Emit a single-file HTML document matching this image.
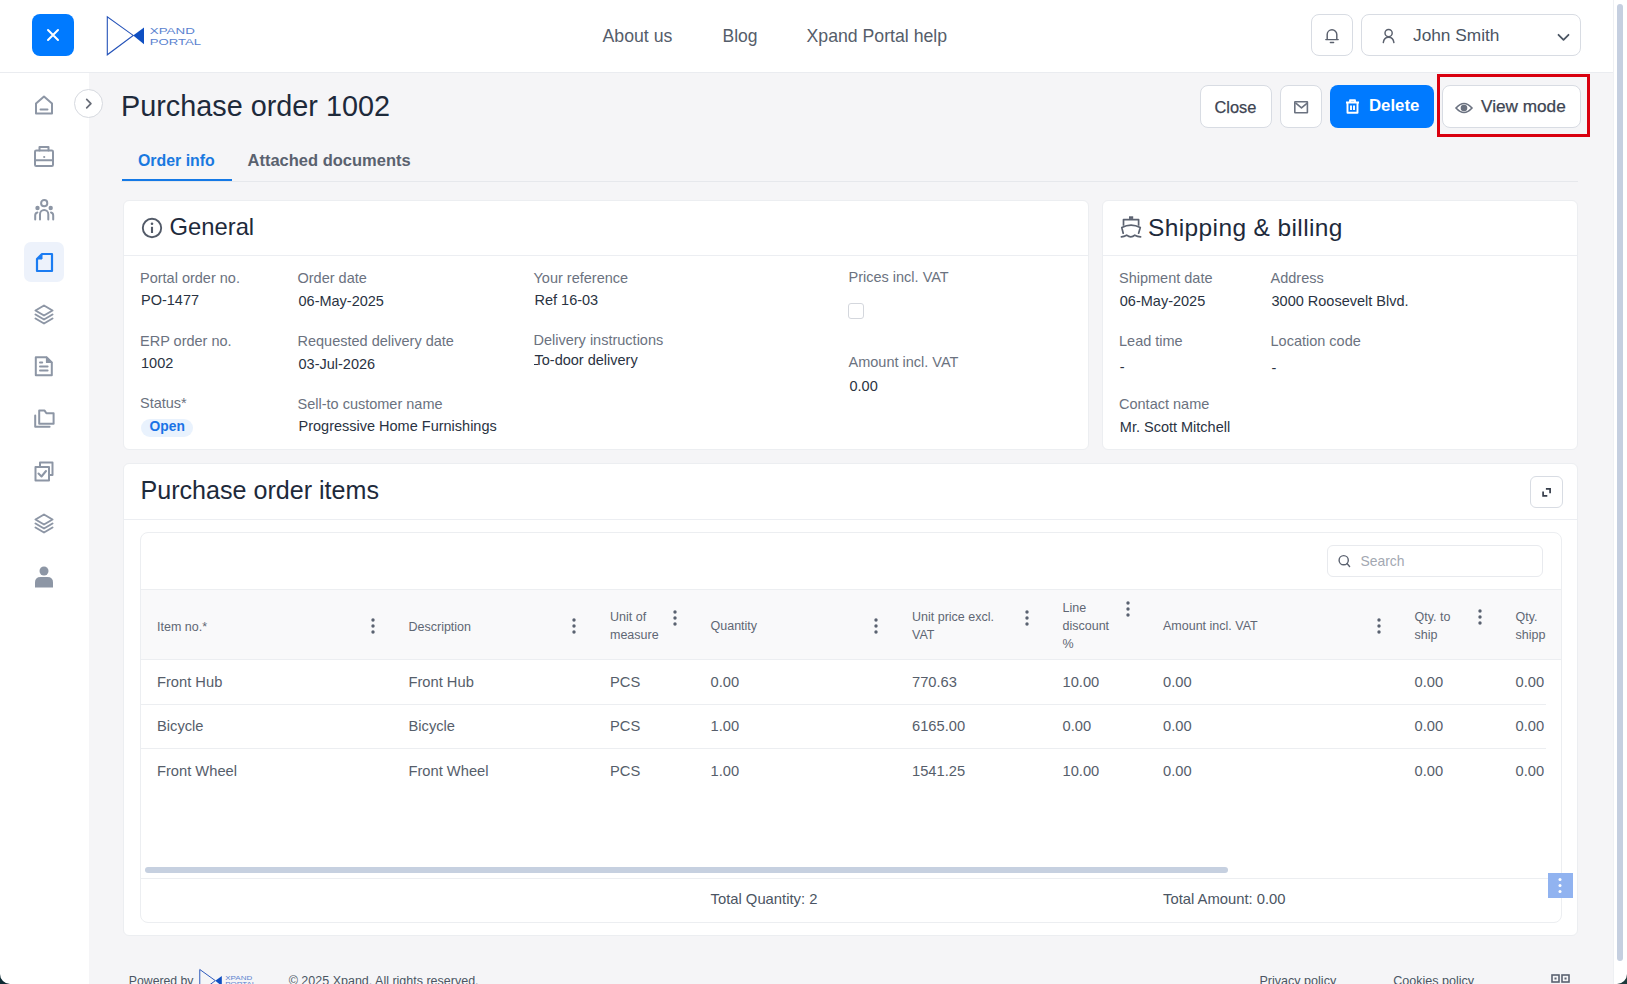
<!DOCTYPE html><html><head><meta charset="utf-8"><title>Purchase order 1002</title><style>
*{box-sizing:border-box;margin:0;padding:0}
html,body{width:1627px;height:984px;overflow:hidden;background:#f5f5f7;font-family:"Liberation Sans",sans-serif}
.a{position:absolute}
.t{position:absolute;white-space:nowrap}
svg{position:absolute;overflow:visible}
</style></head><body>
<div class="a" style="left:0;top:0;width:1613px;height:72px;background:#fff"></div>
<div class="a" style="left:0;top:72px;width:1613px;height:1px;background:#eaecf0"></div>
<div class="a" style="left:0;top:73px;width:88.5px;height:911px;background:#fff"></div>
<div class="a" style="left:1613px;top:0;width:14px;height:984px;background:#fff;border-left:1px solid #eef0f3"></div>
<div class="a" style="left:1617px;top:4px;width:6px;height:957px;border-radius:3px;background:#c5cfe0"></div>
<div class="a" style="left:32px;top:14px;width:42px;height:42px;border-radius:8px;background:#007aff"></div>
<svg style="left:47px;top:29px" width="12" height="12" viewBox="0 0 12 12"><path d="M1 1L11 11M11 1L1 11" stroke="#fff" stroke-width="2" stroke-linecap="round"/></svg>
<svg style="left:106px;top:16px" width="100" height="40" viewBox="0 0 100 40"><path d="M1.3 0.8V38.8L27.2 19.4Z" fill="none" stroke="#2553b9" stroke-width="1.1" stroke-linejoin="miter"/><path d="M27.2 19.4L38 11.5V28.2Z" fill="#0f4fc2"/><text x="43.8" y="18" font-family="Liberation Sans" font-size="9.7" fill="#5a82cf" textLength="45" lengthAdjust="spacingAndGlyphs">XPAND</text><text x="43.8" y="28.9" font-family="Liberation Sans" font-size="9.7" fill="#5a82cf" textLength="51.3" lengthAdjust="spacingAndGlyphs">PORTAL</text></svg>
<div class="t" style="left:602.5px;top:28.02px;font-size:17.7px;line-height:17.7px;color:#555d6a;font-weight:normal;">About us</div>
<div class="t" style="left:722.5px;top:28.19px;font-size:17.5px;line-height:17.5px;color:#555d6a;font-weight:normal;">Blog</div>
<div class="t" style="left:806.5px;top:28.02px;font-size:17.7px;line-height:17.7px;color:#555d6a;font-weight:normal;">Xpand Portal help</div>
<div class="a" style="left:1311px;top:14px;width:42px;height:42px;border-radius:8px;border:1px solid #d8dce3;background:#fff"></div>
<svg style="left:1324px;top:27px" width="16" height="17" viewBox="0 0 16 17"><path d="M3.2 12.5V7.6a4.8 4.8 0 0 1 9.6 0V12.5M1.8 12.6H14.2M6.4 15.4H9.6" fill="none" stroke="#5a606d" stroke-width="1.45" stroke-linecap="round" stroke-linejoin="round"/></svg>
<div class="a" style="left:1361px;top:14px;width:220px;height:42px;border-radius:8px;border:1px solid #d8dce3;background:#fff"></div>
<svg style="left:1382px;top:28px" width="14" height="16" viewBox="0 0 14 16"><circle cx="6.6" cy="5" r="3.6" fill="none" stroke="#5a606d" stroke-width="1.45"/><path d="M1.3 14.6Q2 9.3 6.6 9.3Q11.2 9.3 11.9 14.6" fill="none" stroke="#5a606d" stroke-width="1.45" stroke-linecap="round"/></svg>
<div class="t" style="left:1413px;top:26.86px;font-size:17.3px;line-height:17.3px;color:#4b5563;font-weight:normal;">John Smith</div>
<svg style="left:1557px;top:33px" width="13" height="9" viewBox="0 0 13 9"><path d="M1.5 1.8L6.5 6.8L11.5 1.8" fill="none" stroke="#4b5563" stroke-width="1.8" stroke-linecap="round" stroke-linejoin="round"/></svg>
<svg style="left:34px;top:95px" width="20" height="20" viewBox="0 0 20 20"><path d="M2 18.6V8.6L10 1.6L18 8.6V18.6Z" fill="none" stroke="#8d96a5" stroke-width="2" stroke-linejoin="round" stroke-linecap="round"/><path d="M6.5 14.6H13.5" fill="none" stroke="#8d96a5" stroke-width="2" stroke-linejoin="round" stroke-linecap="round"/></svg>
<svg style="left:34px;top:147px" width="20" height="20" viewBox="0 0 20 20"><rect x="1" y="3.6" width="18" height="15.4" rx="1.2" fill="none" stroke="#8d96a5" stroke-width="2" stroke-linejoin="round" stroke-linecap="round"/><path d="M5.5 3.6V0H14.5V3.6M1 13.3H19" fill="none" stroke="#8d96a5" stroke-width="2" stroke-linejoin="round" stroke-linecap="round"/><circle cx="10.2" cy="10" r="1.1" fill="#8d96a5"/></svg>
<svg style="left:34px;top:199px" width="20" height="22" viewBox="0 0 20 22"><circle cx="10.2" cy="4.2" r="3.1" fill="none" stroke="#8d96a5" stroke-width="2" stroke-linejoin="round" stroke-linecap="round" stroke-width="1.8"/><circle cx="3.5" cy="9" r="2.2" fill="#8d96a5"/><circle cx="16.7" cy="9" r="2.2" fill="#8d96a5"/><path d="M6 20.4V15.15A4.15 4.15 0 0 1 14.3 15.15V20.4M1.2 20.4V16.6Q1.2 13.8 3.4 13.4M19.2 20.4V16.6Q19.2 13.8 17 13.4" fill="none" stroke="#8d96a5" stroke-width="2" stroke-linejoin="round" stroke-linecap="round" stroke-width="1.8"/></svg>
<div class="a" style="left:24px;top:242px;width:40px;height:40px;border-radius:7px;background:#edf2fb"></div>
<svg style="left:35px;top:252px" width="20" height="20" viewBox="0 0 20 20"><path d="M2 7L7 2H17V19H2Z" fill="none" stroke="#1b7cf2" stroke-width="2.2" stroke-linejoin="round"/><path d="M2 7H7V2Z" fill="#1b7cf2" stroke="#1b7cf2" stroke-width="1" stroke-linejoin="round"/></svg>
<svg style="left:34px;top:304px" width="20" height="21" viewBox="0 0 20 21"><path d="M10 1.5L18.5 6.5L10 11.5L1.5 6.5Z" fill="none" stroke="#8d96a5" stroke-width="2" stroke-linejoin="round" stroke-linecap="round"/><path d="M1.5 10.5L10 15.5L18.5 10.5M1.5 14.5L10 19.5L18.5 14.5" fill="none" stroke="#8d96a5" stroke-width="2" stroke-linejoin="round" stroke-linecap="round"/></svg>
<svg style="left:34px;top:356px" width="20" height="21" viewBox="0 0 20 21"><path d="M1.8 1.2H12.5L17.8 6.5V19.2H1.8Z" fill="none" stroke="#8d96a5" stroke-width="2" stroke-linejoin="round" stroke-linecap="round"/><path d="M12.5 1.2V6.5H17.8Z" fill="#8d96a5" stroke="#8d96a5" stroke-width="1.2" stroke-linejoin="round"/><path d="M6 6.5H8.2M6 10.4H13.6M6 14.6H13.6" fill="none" stroke="#8d96a5" stroke-width="2" stroke-linejoin="round" stroke-linecap="round"/></svg>
<svg style="left:34px;top:409px" width="20" height="20" viewBox="0 0 20 20"><path d="M5.2 14.8V1.6H10.6L12.4 4.3H19.6V14.8Z" fill="none" stroke="#8d96a5" stroke-width="2" stroke-linejoin="round" stroke-linecap="round"/><path d="M1.2 6.5V17.8H15.6" fill="none" stroke="#8d96a5" stroke-width="2" stroke-linejoin="round" stroke-linecap="round"/></svg>
<svg style="left:34px;top:461px" width="20" height="21" viewBox="0 0 20 21"><path d="M6 5V1.5H18.5V14H15" fill="none" stroke="#8d96a5" stroke-width="2" stroke-linejoin="round" stroke-linecap="round"/><rect x="1.5" y="6" width="13.5" height="13.5" fill="none" stroke="#8d96a5" stroke-width="2" stroke-linejoin="round" stroke-linecap="round"/><path d="M4.5 12.5L7.5 15.5L12 10" fill="none" stroke="#8d96a5" stroke-width="2" stroke-linejoin="round" stroke-linecap="round"/></svg>
<svg style="left:34px;top:513px" width="20" height="21" viewBox="0 0 20 21"><path d="M10 1.5L18.5 6.5L10 11.5L1.5 6.5Z" fill="none" stroke="#8d96a5" stroke-width="2" stroke-linejoin="round" stroke-linecap="round"/><path d="M1.5 10.5L10 15.5L18.5 10.5M1.5 14.5L10 19.5L18.5 14.5" fill="none" stroke="#8d96a5" stroke-width="2" stroke-linejoin="round" stroke-linecap="round"/></svg>
<svg style="left:34px;top:566px" width="20" height="22" viewBox="0 0 20 22"><circle cx="10" cy="5" r="4.5" fill="#8d96a5"/><path d="M1 21.5V16.5Q1 11 6.5 11H13.5Q19 11 19 16.5V21.5Z" fill="#8d96a5"/></svg>
<div class="a" style="left:74px;top:89px;width:29px;height:29px;border-radius:50%;border:1px solid #d6d9df;background:#fff"></div>
<svg style="left:85px;top:98px" width="8" height="11" viewBox="0 0 8 11"><path d="M1.7 1.3L5.9 5.6L1.7 9.9" fill="none" stroke="#676c77" stroke-width="1.7" stroke-linecap="round" stroke-linejoin="round"/></svg>
<div class="t" style="left:121px;top:91.62px;font-size:28.8px;line-height:28.8px;color:#1e2a3b;font-weight:normal;">Purchase order 1002</div>
<div class="a" style="left:1200px;top:85px;width:72px;height:43px;border:1px solid #d8dce3;border-radius:8px;background:#fff"></div>
<div class="t" style="left:1214.5px;top:98.52px;font-size:16.4px;line-height:16.4px;color:#3d4452;font-weight:normal;-webkit-text-stroke:0.25px #3d4452">Close</div>
<div class="a" style="left:1280px;top:85px;width:42px;height:43px;border:1px solid #d8dce3;border-radius:8px;background:#fff"></div>
<svg style="left:1294px;top:101px" width="15" height="12" viewBox="0 0 15 12"><rect x="0.8" y="0.8" width="12.6" height="11" rx="0.3" fill="none" stroke="#6b7280" stroke-width="1.6"/><path d="M1.5 1.8L7.5 6.8L13.5 1.8" fill="none" stroke="#6b7280" stroke-width="1.6" stroke-linejoin="round"/></svg>
<div class="a" style="left:1330px;top:85px;width:104px;height:43px;border-radius:8px;background:#007aff"></div>
<svg style="left:1345px;top:99px" width="15" height="15" viewBox="0 0 15 15"><path d="M1 3.5H14M5 3.5V1.3H10V3.5M2.5 3.5V13.8H12.5V3.5M6 6.5V11M9 6.5V11" fill="none" stroke="#fff" stroke-width="1.9" stroke-linejoin="round"/></svg>
<div class="t" style="left:1369px;top:98.18px;font-size:16.8px;line-height:16.8px;color:#fff;font-weight:bold;">Delete</div>
<div class="a" style="left:1442px;top:85px;width:139px;height:43px;border:1px solid #d8dce3;border-radius:8px;background:#fff"></div>
<svg style="left:1455px;top:102px" width="18" height="12" viewBox="0 0 18 12"><path d="M1 6Q9 -3 17 6Q9 15 1 6Z" fill="none" stroke="#6b7280" stroke-width="1.6"/><circle cx="9" cy="6" r="3.3" fill="#6b7280"/></svg>
<div class="t" style="left:1481px;top:98.04px;font-size:17.2px;line-height:17.2px;color:#3d4452;font-weight:normal;-webkit-text-stroke:0.25px #3d4452">View mode</div>
<div class="a" style="left:1437px;top:74px;width:153px;height:63px;border:3px solid #d9000f"></div>
<div class="a" style="left:121px;top:181px;width:1457px;height:1px;background:#e6e8ec"></div>
<div class="a" style="left:122px;top:179px;width:110px;height:2px;background:#1479e6"></div>
<div class="t" style="left:138px;top:152.54px;font-size:15.9px;line-height:15.9px;color:#1979e0;font-weight:bold;">Order info</div>
<div class="t" style="left:247.5px;top:152.03px;font-size:16.5px;line-height:16.5px;color:#5a626f;font-weight:bold;">Attached documents</div>
<div class="a" style="left:123px;top:200px;width:966px;height:250px;background:#fff;border:1px solid #eceef1;border-radius:6px"></div>
<div class="a" style="left:124px;top:255px;width:964px;height:1px;background:#eceef2"></div>
<svg style="left:141px;top:217px" width="22" height="22" viewBox="0 0 22 22"><circle cx="11" cy="11" r="9.2" fill="none" stroke="#525a68" stroke-width="1.9"/><circle cx="11" cy="6.8" r="1.3" fill="#525a68"/><path d="M11 9.8V16" stroke="#525a68" stroke-width="2.1"/></svg>
<div class="t" style="left:169.5px;top:215.35px;font-size:23.8px;line-height:23.8px;color:#1e2a3b;font-weight:normal;">General</div>
<div class="t" style="left:140px;top:271.13px;font-size:14.5px;line-height:14.5px;color:#6b7280;font-weight:normal;">Portal order no.</div>
<div class="t" style="left:141px;top:292.73px;font-size:14.5px;line-height:14.5px;color:#2a3342;font-weight:normal;">PO-1477</div>
<div class="t" style="left:140px;top:334.23px;font-size:14.5px;line-height:14.5px;color:#6b7280;font-weight:normal;">ERP order no.</div>
<div class="t" style="left:141px;top:356.23px;font-size:14.5px;line-height:14.5px;color:#2a3342;font-weight:normal;">1002</div>
<div class="t" style="left:140px;top:396.43px;font-size:14.5px;line-height:14.5px;color:#6b7280;font-weight:normal;">Status*</div>
<div class="a" style="left:141px;top:419px;width:52px;height:18px;border-radius:9px;background:#e9f2fd"></div>
<div class="t" style="left:149.6px;top:419.92px;font-size:13.8px;line-height:13.8px;color:#1a73e6;font-weight:bold;">Open</div>
<div class="t" style="left:297.5px;top:271.13px;font-size:14.5px;line-height:14.5px;color:#6b7280;font-weight:normal;">Order date</div>
<div class="t" style="left:298.5px;top:293.73px;font-size:14.5px;line-height:14.5px;color:#2a3342;font-weight:normal;">06-May-2025</div>
<div class="t" style="left:297.5px;top:334.23px;font-size:14.5px;line-height:14.5px;color:#6b7280;font-weight:normal;">Requested delivery date</div>
<div class="t" style="left:298.5px;top:356.73px;font-size:14.5px;line-height:14.5px;color:#2a3342;font-weight:normal;">03-Jul-2026</div>
<div class="t" style="left:297.5px;top:396.93px;font-size:14.5px;line-height:14.5px;color:#6b7280;font-weight:normal;">Sell-to customer name</div>
<div class="t" style="left:298.5px;top:419.33px;font-size:14.5px;line-height:14.5px;color:#2a3342;font-weight:normal;">Progressive Home Furnishings</div>
<div class="t" style="left:533.5px;top:270.53px;font-size:14.5px;line-height:14.5px;color:#6b7280;font-weight:normal;">Your reference</div>
<div class="t" style="left:534.5px;top:293.03px;font-size:14.5px;line-height:14.5px;color:#2a3342;font-weight:normal;">Ref 16-03</div>
<div class="t" style="left:533.5px;top:333.03px;font-size:14.5px;line-height:14.5px;color:#6b7280;font-weight:normal;">Delivery instructions</div>
<div class="t" style="left:534.5px;top:352.83px;font-size:14.5px;line-height:14.5px;color:#2a3342;font-weight:normal;">To-door delivery</div>
<div class="a" style="left:534.2px;top:363.6px;width:4px;height:1.4px;background:#2a3342"></div>
<div class="t" style="left:848.5px;top:269.63px;font-size:14.5px;line-height:14.5px;color:#6b7280;font-weight:normal;">Prices incl. VAT</div>
<div class="a" style="left:848px;top:303px;width:16px;height:16px;border-radius:3px;border:1px solid #d4d7dd;background:#fff"></div>
<div class="t" style="left:848.5px;top:355.13px;font-size:14.5px;line-height:14.5px;color:#6b7280;font-weight:normal;">Amount incl. VAT</div>
<div class="t" style="left:849.5px;top:378.53px;font-size:14.5px;line-height:14.5px;color:#2a3342;font-weight:normal;">0.00</div>
<div class="a" style="left:1102px;top:200px;width:476px;height:250px;background:#fff;border:1px solid #eceef1;border-radius:6px"></div>
<div class="a" style="left:1103px;top:255px;width:474px;height:1px;background:#eceef2"></div>
<svg style="left:1112px;top:210px" width="40" height="35" viewBox="0 0 40 35"><rect x="17" y="6.3" width="4.2" height="2.6" fill="#5b6270"/><path d="M11.5 15.8V9.6H26.6V15.8" fill="none" stroke="#5b6270" stroke-width="1.7" stroke-linejoin="round"/><path d="M11.2 23.2L9.8 17.6Q19 12.6 28.3 17.6L26.6 23.2" fill="none" stroke="#5b6270" stroke-width="1.7" stroke-linejoin="round" stroke-linecap="round"/><path d="M9.4 26.9Q12 26.6 14.6 25.2Q19 28.6 22.8 25.2Q25.5 26.6 28.6 26.9" fill="none" stroke="#5b6270" stroke-width="1.7" stroke-linejoin="round" stroke-linecap="round"/></svg>
<div class="t" style="left:1148px;top:215.66px;font-size:24.5px;line-height:24.5px;color:#1e2a3b;font-weight:normal;letter-spacing:0.38px">Shipping &amp; billing</div>
<div class="t" style="left:1119px;top:270.83px;font-size:14.5px;line-height:14.5px;color:#6b7280;font-weight:normal;">Shipment date</div>
<div class="t" style="left:1119.8px;top:293.73px;font-size:14.5px;line-height:14.5px;color:#2a3342;font-weight:normal;">06-May-2025</div>
<div class="t" style="left:1270.5px;top:270.83px;font-size:14.5px;line-height:14.5px;color:#6b7280;font-weight:normal;">Address</div>
<div class="t" style="left:1271.5px;top:293.73px;font-size:14.5px;line-height:14.5px;color:#2a3342;font-weight:normal;">3000 Roosevelt Blvd.</div>
<div class="t" style="left:1119px;top:333.83px;font-size:14.5px;line-height:14.5px;color:#6b7280;font-weight:normal;">Lead time</div>
<div class="t" style="left:1119.8px;top:359.73px;font-size:14.5px;line-height:14.5px;color:#2a3342;font-weight:normal;">-</div>
<div class="t" style="left:1270.5px;top:333.83px;font-size:14.5px;line-height:14.5px;color:#6b7280;font-weight:normal;">Location code</div>
<div class="t" style="left:1271.5px;top:360.73px;font-size:14.5px;line-height:14.5px;color:#2a3342;font-weight:normal;">-</div>
<div class="t" style="left:1119px;top:397.13px;font-size:14.5px;line-height:14.5px;color:#6b7280;font-weight:normal;">Contact name</div>
<div class="t" style="left:1119.8px;top:419.73px;font-size:14.5px;line-height:14.5px;color:#2a3342;font-weight:normal;">Mr. Scott Mitchell</div>
<div class="a" style="left:123px;top:463px;width:1455px;height:473px;background:#fff;border:1px solid #eceef1;border-radius:6px"></div>
<div class="a" style="left:124px;top:519px;width:1453px;height:1px;background:#eceef2"></div>
<div class="t" style="left:140.5px;top:478.05px;font-size:25.1px;line-height:25.1px;color:#1e2a3b;font-weight:normal;">Purchase order items</div>
<div class="a" style="left:1530px;top:476px;width:33px;height:32px;border-radius:6px;border:1px solid #d8dce3;background:#fff"></div>
<svg style="left:1528px;top:474px" width="38" height="36" viewBox="0 0 38 36"><path d="M17.9 14.9H22.1V19.2M19.3 21.9H15.1V17.6" fill="none" stroke="#363d4a" stroke-width="1.7"/></svg>
<div class="a" style="left:140px;top:532px;width:1422px;height:391px;border:1px solid #eceef1;border-radius:8px;background:#fff"></div>
<div class="a" style="left:1327px;top:545px;width:216px;height:32px;border-radius:6px;border:1px solid #e8eaee;background:#fff"></div>
<svg style="left:1337px;top:554px" width="14" height="14" viewBox="0 0 14 14"><circle cx="6.7" cy="6.2" r="4.6" fill="none" stroke="#5b6270" stroke-width="1.4"/><path d="M10 9.6L12.6 12.4" stroke="#5b6270" stroke-width="1.4" stroke-linecap="round"/></svg>
<div class="t" style="left:1360.5px;top:554.83px;font-size:13.9px;line-height:13.9px;color:#a3a8b2;font-weight:normal;">Search</div>
<div class="a" style="left:141px;top:589px;width:1420px;height:71px;background:#f9f9fa;border-top:1px solid #eceef1;border-bottom:1px solid #eceef1"></div>
<div class="t" style="left:157px;top:620.62px;font-size:12.5px;line-height:12.5px;color:#5f6774;font-weight:normal;">Item no.*</div>
<svg style="left:370.5px;top:618px" width="4" height="16" viewBox="0 0 4 16"><circle cx="2" cy="2" r="1.7" fill="#5a6270"/><circle cx="2" cy="8" r="1.7" fill="#5a6270"/><circle cx="2" cy="14" r="1.7" fill="#5a6270"/></svg>
<div class="t" style="left:408.5px;top:620.62px;font-size:12.5px;line-height:12.5px;color:#5f6774;font-weight:normal;">Description</div>
<svg style="left:572px;top:618px" width="4" height="16" viewBox="0 0 4 16"><circle cx="2" cy="2" r="1.7" fill="#5a6270"/><circle cx="2" cy="8" r="1.7" fill="#5a6270"/><circle cx="2" cy="14" r="1.7" fill="#5a6270"/></svg>
<div class="t" style="left:610px;top:611.12px;font-size:12.5px;line-height:12.5px;color:#5f6774;font-weight:normal;">Unit of</div>
<div class="t" style="left:610px;top:629.02px;font-size:12.5px;line-height:12.5px;color:#5f6774;font-weight:normal;">measure</div>
<svg style="left:673px;top:609.5px" width="4" height="16" viewBox="0 0 4 16"><circle cx="2" cy="2" r="1.7" fill="#5a6270"/><circle cx="2" cy="8" r="1.7" fill="#5a6270"/><circle cx="2" cy="14" r="1.7" fill="#5a6270"/></svg>
<div class="t" style="left:710.5px;top:620.42px;font-size:12.5px;line-height:12.5px;color:#5f6774;font-weight:normal;">Quantity</div>
<svg style="left:874px;top:618px" width="4" height="16" viewBox="0 0 4 16"><circle cx="2" cy="2" r="1.7" fill="#5a6270"/><circle cx="2" cy="8" r="1.7" fill="#5a6270"/><circle cx="2" cy="14" r="1.7" fill="#5a6270"/></svg>
<div class="t" style="left:912px;top:611.12px;font-size:12.5px;line-height:12.5px;color:#5f6774;font-weight:normal;">Unit price excl.</div>
<div class="t" style="left:912px;top:629.02px;font-size:12.5px;line-height:12.5px;color:#5f6774;font-weight:normal;">VAT</div>
<svg style="left:1024.5px;top:609.5px" width="4" height="16" viewBox="0 0 4 16"><circle cx="2" cy="2" r="1.7" fill="#5a6270"/><circle cx="2" cy="8" r="1.7" fill="#5a6270"/><circle cx="2" cy="14" r="1.7" fill="#5a6270"/></svg>
<div class="t" style="left:1062.5px;top:601.92px;font-size:12.5px;line-height:12.5px;color:#5f6774;font-weight:normal;">Line</div>
<div class="t" style="left:1062.5px;top:619.92px;font-size:12.5px;line-height:12.5px;color:#5f6774;font-weight:normal;">discount</div>
<div class="t" style="left:1062.5px;top:637.92px;font-size:12.5px;line-height:12.5px;color:#5f6774;font-weight:normal;">%</div>
<svg style="left:1125.5px;top:600.5px" width="4" height="16" viewBox="0 0 4 16"><circle cx="2" cy="2" r="1.7" fill="#5a6270"/><circle cx="2" cy="8" r="1.7" fill="#5a6270"/><circle cx="2" cy="14" r="1.7" fill="#5a6270"/></svg>
<div class="t" style="left:1163px;top:619.92px;font-size:12.5px;line-height:12.5px;color:#5f6774;font-weight:normal;">Amount incl. VAT</div>
<svg style="left:1376.5px;top:618px" width="4" height="16" viewBox="0 0 4 16"><circle cx="2" cy="2" r="1.7" fill="#5a6270"/><circle cx="2" cy="8" r="1.7" fill="#5a6270"/><circle cx="2" cy="14" r="1.7" fill="#5a6270"/></svg>
<div class="t" style="left:1414.5px;top:610.92px;font-size:12.5px;line-height:12.5px;color:#5f6774;font-weight:normal;">Qty. to</div>
<div class="t" style="left:1414.5px;top:628.82px;font-size:12.5px;line-height:12.5px;color:#5f6774;font-weight:normal;">ship</div>
<svg style="left:1477.5px;top:609px" width="4" height="16" viewBox="0 0 4 16"><circle cx="2" cy="2" r="1.7" fill="#5a6270"/><circle cx="2" cy="8" r="1.7" fill="#5a6270"/><circle cx="2" cy="14" r="1.7" fill="#5a6270"/></svg>
<div class="a" style="left:1515px;top:600px;width:31px;height:50px;overflow:hidden"><div class="t" style="left:0.5px;top:10.92px;font-size:12.5px;line-height:12.5px;color:#5f6774;font-weight:normal;">Qty.</div><div class="t" style="left:0.5px;top:28.82px;font-size:12.5px;line-height:12.5px;color:#5f6774;font-weight:normal;">shipping</div></div>
<div class="t" style="left:157px;top:674.86px;font-size:14.7px;line-height:14.7px;color:#565e6b;font-weight:normal;">Front Hub</div>
<div class="t" style="left:408.5px;top:674.86px;font-size:14.7px;line-height:14.7px;color:#565e6b;font-weight:normal;">Front Hub</div>
<div class="t" style="left:610px;top:674.86px;font-size:14.7px;line-height:14.7px;color:#565e6b;font-weight:normal;">PCS</div>
<div class="t" style="left:710.5px;top:674.86px;font-size:14.7px;line-height:14.7px;color:#565e6b;font-weight:normal;">0.00</div>
<div class="t" style="left:912px;top:674.86px;font-size:14.7px;line-height:14.7px;color:#565e6b;font-weight:normal;">770.63</div>
<div class="t" style="left:1062.5px;top:674.86px;font-size:14.7px;line-height:14.7px;color:#565e6b;font-weight:normal;">10.00</div>
<div class="t" style="left:1163px;top:674.86px;font-size:14.7px;line-height:14.7px;color:#565e6b;font-weight:normal;">0.00</div>
<div class="t" style="left:1414.5px;top:674.86px;font-size:14.7px;line-height:14.7px;color:#565e6b;font-weight:normal;">0.00</div>
<div class="a" style="left:1515px;top:667px;width:31px;height:30px;overflow:hidden"><div class="t" style="left:0.5px;top:7.56px;font-size:14.7px;line-height:14.7px;color:#565e6b;font-weight:normal;">0.00</div></div>
<div class="a" style="left:141px;top:704px;width:1405px;height:1px;background:#eceef1"></div>
<div class="t" style="left:157px;top:719.46px;font-size:14.7px;line-height:14.7px;color:#565e6b;font-weight:normal;">Bicycle</div>
<div class="t" style="left:408.5px;top:719.46px;font-size:14.7px;line-height:14.7px;color:#565e6b;font-weight:normal;">Bicycle</div>
<div class="t" style="left:610px;top:719.46px;font-size:14.7px;line-height:14.7px;color:#565e6b;font-weight:normal;">PCS</div>
<div class="t" style="left:710.5px;top:719.46px;font-size:14.7px;line-height:14.7px;color:#565e6b;font-weight:normal;">1.00</div>
<div class="t" style="left:912px;top:719.46px;font-size:14.7px;line-height:14.7px;color:#565e6b;font-weight:normal;">6165.00</div>
<div class="t" style="left:1062.5px;top:719.46px;font-size:14.7px;line-height:14.7px;color:#565e6b;font-weight:normal;">0.00</div>
<div class="t" style="left:1163px;top:719.46px;font-size:14.7px;line-height:14.7px;color:#565e6b;font-weight:normal;">0.00</div>
<div class="t" style="left:1414.5px;top:719.46px;font-size:14.7px;line-height:14.7px;color:#565e6b;font-weight:normal;">0.00</div>
<div class="a" style="left:1515px;top:711px;width:31px;height:30px;overflow:hidden"><div class="t" style="left:0.5px;top:7.56px;font-size:14.7px;line-height:14.7px;color:#565e6b;font-weight:normal;">0.00</div></div>
<div class="a" style="left:141px;top:748px;width:1405px;height:1px;background:#eceef1"></div>
<div class="t" style="left:157px;top:763.66px;font-size:14.7px;line-height:14.7px;color:#565e6b;font-weight:normal;">Front Wheel</div>
<div class="t" style="left:408.5px;top:763.66px;font-size:14.7px;line-height:14.7px;color:#565e6b;font-weight:normal;">Front Wheel</div>
<div class="t" style="left:610px;top:763.66px;font-size:14.7px;line-height:14.7px;color:#565e6b;font-weight:normal;">PCS</div>
<div class="t" style="left:710.5px;top:763.66px;font-size:14.7px;line-height:14.7px;color:#565e6b;font-weight:normal;">1.00</div>
<div class="t" style="left:912px;top:763.66px;font-size:14.7px;line-height:14.7px;color:#565e6b;font-weight:normal;">1541.25</div>
<div class="t" style="left:1062.5px;top:763.66px;font-size:14.7px;line-height:14.7px;color:#565e6b;font-weight:normal;">10.00</div>
<div class="t" style="left:1163px;top:763.66px;font-size:14.7px;line-height:14.7px;color:#565e6b;font-weight:normal;">0.00</div>
<div class="t" style="left:1414.5px;top:763.66px;font-size:14.7px;line-height:14.7px;color:#565e6b;font-weight:normal;">0.00</div>
<div class="a" style="left:1515px;top:756px;width:31px;height:30px;overflow:hidden"><div class="t" style="left:0.5px;top:7.56px;font-size:14.7px;line-height:14.7px;color:#565e6b;font-weight:normal;">0.00</div></div>
<div class="a" style="left:145px;top:867px;width:1083px;height:6px;border-radius:3px;background:#c6d0e0"></div>
<div class="a" style="left:141px;top:877.5px;width:1420px;height:1px;background:#eceef1"></div>
<div class="t" style="left:710.5px;top:891.87px;font-size:14.8px;line-height:14.8px;color:#4b5563;font-weight:normal;">Total Quantity: 2</div>
<div class="t" style="left:1163px;top:891.87px;font-size:14.8px;line-height:14.8px;color:#4b5563;font-weight:normal;">Total Amount: 0.00</div>
<div class="a" style="left:1548px;top:873px;width:25px;height:25px;background:#91b3f0"></div>
<svg style="left:1558px;top:877px" width="4" height="17" viewBox="0 0 4 17"><circle cx="2" cy="2.5" r="1.5" fill="#fff"/><circle cx="2" cy="8.5" r="1.5" fill="#fff"/><circle cx="2" cy="14.5" r="1.5" fill="#fff"/></svg>
<div class="t" style="left:128.8px;top:975.13px;font-size:12.25px;line-height:12.25px;color:#4b5563;font-weight:normal;">Powered by</div>
<svg style="left:199px;top:969px" width="60" height="24" viewBox="0 0 100 40"><path d="M1.3 0.8V38.8L27.2 19.4Z" fill="none" stroke="#2553b9" stroke-width="1.6" stroke-linejoin="miter"/><path d="M27.2 19.4L38 11.5V28.2Z" fill="#0f4fc2"/><text x="43.8" y="18" font-family="Liberation Sans" font-size="9.7" fill="#5a82cf" textLength="45" lengthAdjust="spacingAndGlyphs">XPAND</text><text x="43.8" y="28.9" font-family="Liberation Sans" font-size="9.7" fill="#5a82cf" textLength="51.3" lengthAdjust="spacingAndGlyphs">PORTAL</text></svg>
<div class="t" style="left:288.7px;top:974.92px;font-size:12.5px;line-height:12.5px;color:#4b5563;font-weight:normal;">&copy; 2025 Xpand. All rights reserved.</div>
<div class="t" style="left:1259.5px;top:974.88px;font-size:12.55px;line-height:12.55px;color:#4b5563;font-weight:normal;">Privacy policy</div>
<div class="t" style="left:1393.2px;top:974.88px;font-size:12.55px;line-height:12.55px;color:#4b5563;font-weight:normal;">Cookies policy</div>
<svg style="left:1551px;top:973.5px" width="20" height="14" viewBox="0 0 20 14"><rect x="1" y="1" width="7" height="7" fill="none" stroke="#5a6270" stroke-width="1.6"/><rect x="11" y="1" width="7" height="7" fill="none" stroke="#5a6270" stroke-width="1.6"/><rect x="3.5" y="3.5" width="2" height="2" fill="#5a6270"/><rect x="13.5" y="3.5" width="2" height="2" fill="#5a6270"/><rect x="1" y="11" width="7" height="7" fill="none" stroke="#5a6270" stroke-width="1.6"/><rect x="11" y="11" width="7" height="7" fill="none" stroke="#5a6270" stroke-width="1.6"/></svg>
<svg style="left:0;top:974px" width="10" height="10" viewBox="0 0 10 10"><path d="M0 0A10 10 0 0 0 10 10H0Z" fill="#0e2a33"/></svg>
<svg style="left:1617px;top:974px" width="10" height="10" viewBox="0 0 10 10"><path d="M10 0A10 10 0 0 1 0 10H10Z" fill="#1c3a3c"/></svg>
</body></html>
